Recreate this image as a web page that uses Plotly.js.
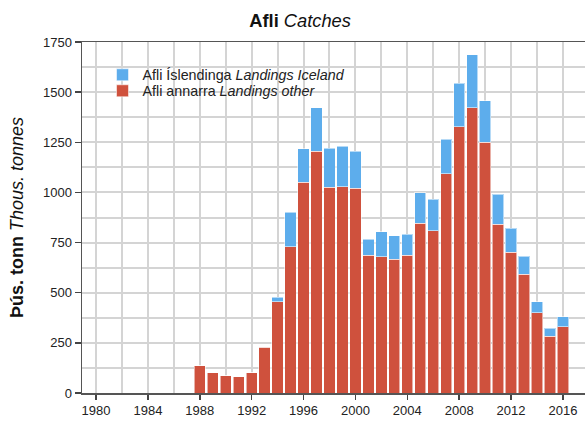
<!DOCTYPE html>
<html>
<head>
<meta charset="utf-8">
<script src="https://cdn.plot.ly/plotly-3.0.1.min.js"></script>
<style>html,body{margin:0;padding:0;background:#fff;}#chart{width:585px;height:421px;}</style>
</head>
<body>
<div id="chart"></div>
<script>
const years = [1988,1989,1990,1991,1992,1993,1994,1995,1996,1997,1998,1999,2000,2001,2002,2003,2004,2005,2006,2007,2008,2009,2010,2011,2012,2013,2014,2015,2016];
const landingsOther = [135,102,86,82,102,228,455,729,1052,1205,1025,1028,1022,688,680,668,686,846,808,1093,1328,1421,1251,841,703,593,400,283,331];
const landingsIceland = [0,0,0,0,0,0,22,173,166,217,196,203,183,78,124,116,105,152,157,172,216,265,205,151,119,88,55,41,49];
const xTickVals = [1980,1984,1988,1992,1996,2000,2004,2008,2012,2016];
const yTickVals = [0,250,500,750,1000,1250,1500,1750];

const font = "Liberation Sans, Arial, Helvetica, sans-serif";
const gridColor = "#d4d4d4";
const legendFont = {family: font, size: 14.3, color: "#222"};

const traces = [
  {
    type: "bar", x: years, y: landingsOther,
    name: "Afli annarra <i>Landings other</i>",
    legend: "legend2",
    marker: {color: "#cf513d", line: {color: "rgba(255,255,255,0.55)", width: 1}},
    hoverinfo: "x+y"
  },
  {
    type: "bar", x: years, y: landingsIceland,
    name: "Afli Íslendinga <i>Landings Iceland</i>",
    legend: "legend",
    marker: {color: "#5dadec", line: {color: "rgba(255,255,255,0.55)", width: 1}},
    hoverinfo: "x+y"
  }
];

const layout = {
  width: 585, height: 421,
  margin: {l: 82, r: 0, t: 42, b: 28},
  paper_bgcolor: "#fff", plot_bgcolor: "#fff",
  barmode: "stack", bargap: 0.13,
  font: {family: font, size: 13, color: "#222"},
  title: {
    text: "<b>Afli</b> <i>Catches</i>",
    font: {family: font, size: 18.3, color: "#111"},
    xref: "container", x: 0.513, xanchor: "center",
    yref: "container", y: 0.952, yanchor: "middle"
  },
  showlegend: true,
  legend: {
    x: 0.0408, y: 0.906, xanchor: "left", yanchor: "middle",
    bgcolor: "rgba(0,0,0,0)", borderwidth: 0, font: legendFont
  },
  legend2: {
    x: 0.0408, y: 0.8604, xanchor: "left", yanchor: "middle",
    bgcolor: "rgba(0,0,0,0)", borderwidth: 0, font: legendFont
  },
  shapes: [{
    type: "rect", layer: "between", xref: "paper", yref: "paper",
    x0: 0.0715, x1: 0.5348, y0: 0.8234, y1: 0.9259,
    fillcolor: "#fff", line: {width: 0}
  }],
  xaxis: {
    range: [1978.92, 2017.7],
    tickmode: "array", tickvals: xTickVals, ticktext: xTickVals.map(String),
    ticks: "outside", ticklen: 5, tickwidth: 1.5, tickcolor: "#444",
    showline: true, linecolor: "#555", linewidth: 1.5, mirror: true,
    showgrid: true, gridcolor: gridColor, gridwidth: 2,
    minor: {dtick: 2, tick0: 1980, showgrid: true, gridcolor: gridColor, gridwidth: 2},
    zeroline: false, fixedrange: true,
    tickfont: {family: font, size: 13, color: "#222"}
  },
  yaxis: {
    range: [0, 1750],
    tickmode: "array", tickvals: yTickVals,
    ticks: "outside", ticklen: 6, tickwidth: 1.5, tickcolor: "#444",
    showline: true, linecolor: "#555", linewidth: 1.5,
    showgrid: true, gridcolor: gridColor, gridwidth: 2,
    minor: {dtick: 125, tick0: 0, showgrid: true, gridcolor: gridColor, gridwidth: 2},
    zeroline: false, fixedrange: true,
    tickfont: {family: font, size: 13, color: "#222"},
    title: {text: "<b>Þús. tonn</b> <i>Thous. tonnes</i>", font: {family: font, size: 18, color: "#111"}, standoff: 14}
  }
};

Plotly.newPlot("chart", traces, layout, {displayModeBar: false, staticPlot: true});
</script>
</body>
</html>
